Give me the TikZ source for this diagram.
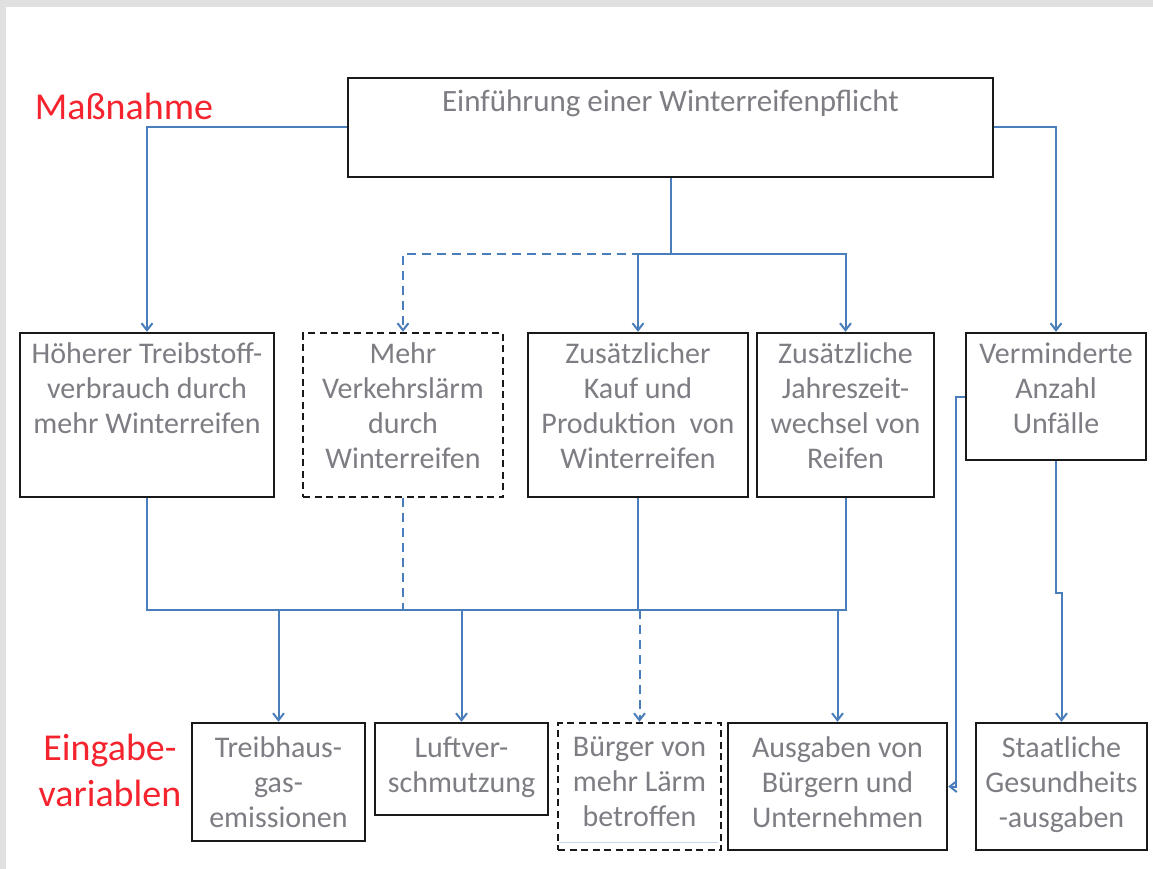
\documentclass[tikz,border=0pt]{standalone}
\usepackage{fontspec}
\setmainfont{Carlito}
\usetikzlibrary{arrows.meta}
\definecolor{linkblue}{RGB}{74,126,187}
\definecolor{boxline}{RGB}{25,25,25}
\definecolor{boxtext}{RGB}{125,125,132}
\definecolor{headred}{RGB}{245,35,45}
\definecolor{framegray}{RGB}{224,224,224}
\definecolor{faintblue}{RGB}{200,214,235}
\begin{document}
\begin{tikzpicture}[x=1pt,y=-1pt,
  box/.style={draw=boxline, line width=2.4pt, inner sep=0pt},
  dbox/.style={box, dash pattern=on 7pt off 4.5pt},
  txt/.style={text=boxtext, align=center, inner sep=0pt, anchor=north, font=\fontsize{30}{35}\selectfont},
  head/.style={text=headred, align=center, inner sep=0pt, font=\fontsize{38}{46}\selectfont},
  conn/.style={draw=linkblue, line width=2pt},
  dconn/.style={conn, dash pattern=on 9pt off 6pt},
  tip/.style={-{Straight Barb[length=7pt,width=11pt]}},
]
% page and frame strips
\useasboundingbox (0,0) rectangle (1153,869);
\fill[white] (0,0) rectangle (1153,869);
\fill[framegray] (0,0) rectangle (1153,7);
\fill[framegray] (0,0) rectangle (6,869);

% row labels
\node[head] (lmass) at (124,106) {Maßnahme};
\node[head] (linput) at (110,770) {Eingabe-\\variablen};

% measure
\node[box, minimum width=645pt, minimum height=99pt] (top) at (670.5,127.5) {};
\node[txt, font=\fontsize{31}{36}\selectfont] (ttop) at ([yshift=-13pt]top.north) {Einführung einer Winterreifenpflicht};

% effects
\node[box,  minimum width=254pt, minimum height=164pt] (hA) at (147,415) {};
\node[dbox, minimum width=200pt, minimum height=164pt] (hB) at (403,415) {};
\node[box,  minimum width=220pt, minimum height=164pt] (hC) at (638,415) {};
\node[box,  minimum width=177pt, minimum height=164pt] (hD) at (845.5,415) {};
\node[box,  minimum width=180pt, minimum height=127pt] (hE) at (1056,396.5) {};
\node[txt] (tA) at ([yshift=-11pt]hA.north) {Höherer Treibstoff-\\verbrauch durch\\mehr Winterreifen};
\node[txt] (tB) at ([yshift=-11pt]hB.north) {Mehr\\Verkehrslärm\\durch\\Winterreifen};
\node[txt] (tC) at ([yshift=-11pt]hC.north) {Zusätzlicher\\Kauf und\\Produktion~~von\\Winterreifen};
\node[txt] (tD) at ([yshift=-11pt]hD.north) {Zusätzliche\\Jahreszeit-\\wechsel von\\Reifen};
\node[txt] (tE) at ([yshift=-11pt]hE.north) {Verminderte\\Anzahl\\Unfälle};

% input variables
\node[box,  minimum width=173pt, minimum height=118pt] (hTH) at (278.5,782) {};
\node[box,  minimum width=173pt, minimum height=92pt]  (hLu) at (461.5,769) {};
\node[dbox, minimum width=163pt, minimum height=127pt] (hBu) at (639.5,786.5) {};
\node[box,  minimum width=219pt, minimum height=127pt] (hAu) at (837.5,786.5) {};
\node[box,  minimum width=171pt, minimum height=127pt] (hSt) at (1061.5,786.5) {};
\draw[faintblue, line width=1pt] ([xshift=2pt,yshift=9pt]hBu.south west) -- ([xshift=-4pt,yshift=9pt]hBu.south east);
\node[txt] (tTH) at ([yshift=-15pt]hTH.north) {Treibhaus-\\gas-\\emissionen};
\node[txt] (tLu) at ([yshift=-15pt]hLu.north) {Luftver-\\schmutzung};
\node[txt] (tBu) at ([yshift=-15pt]hBu.north) {Bürger von\\mehr Lärm\\betroffen};
\node[txt] (tAu) at ([yshift=-15pt]hAu.north) {Ausgaben von\\Bürgern und\\Unternehmen};
\node[txt] (tSt) at ([yshift=-15pt]hSt.north) {Staatliche\\Gesundheits\\-ausgaben};

% connectors from the measure
\coordinate (split) at (670.5,254);
\draw[conn, tip] (top.west) -| (hA.north);
\draw[conn, tip] (top.east) -| (hE.north);
\draw[dconn, tip] (top.south) -- (split) -| (hB.north);
\draw[conn] (top.south) -- (split);
\draw[conn, tip] (split) -| (hC.north);
\draw[conn, tip] (split) -| (hD.north);

% collecting line to the input variables
\coordinate (busL) at (147,610);
\draw[conn] (hA.south) -- (busL) -- (busL -| hD.south) -- (hD.south);
\draw[conn] (hC.south) -- (hC.south |- busL);
\draw[dconn] (hB.south) -- (hB.south |- busL);
\draw[conn, tip] (hTH.north |- busL) -- (hTH.north);
\draw[conn, tip] (hLu.north |- busL) -- (hLu.north);
\draw[dconn, tip] (hBu.north |- busL) -- (hBu.north);
\draw[conn, tip] (hAu.north |- busL) -- (hAu.north);

% fewer accidents
\draw[conn, tip] (hE.south) -- ++(0,132) -| (hSt.north);
\draw[conn, tip] (hE.west) -- ++(-9,0) |- (hAu.east);
\end{tikzpicture}
\end{document}
